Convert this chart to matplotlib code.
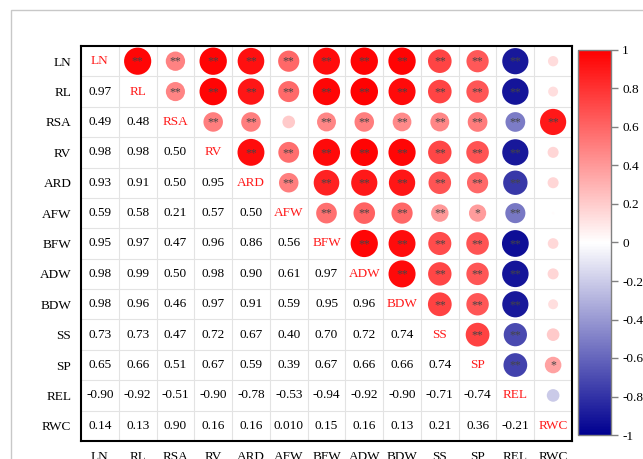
import numpy as np
import matplotlib
matplotlib.use("Agg")
import matplotlib.pyplot as plt
from matplotlib.colors import LinearSegmentedColormap, Normalize
from matplotlib.patches import Rectangle
import matplotlib.cm as cm

plt.rcParams['font.family'] = ['Liberation Serif', 'DejaVu Serif']

# variable names
labels = ['LN', 'RL', 'RSA', 'RV', 'ARD', 'AFW', 'BFW', 'ADW', 'BDW', 'SS', 'SP', 'REL', 'RWC']

# lower triangle of the correlation matrix, row by row
lower = [
    [],
    [0.97],
    [0.49, 0.48],
    [0.98, 0.98, 0.50],
    [0.93, 0.91, 0.50, 0.95],
    [0.59, 0.58, 0.21, 0.57, 0.50],
    [0.95, 0.97, 0.47, 0.96, 0.86, 0.56],
    [0.98, 0.99, 0.50, 0.98, 0.90, 0.61, 0.97],
    [0.98, 0.96, 0.46, 0.97, 0.91, 0.59, 0.95, 0.96],
    [0.73, 0.73, 0.47, 0.72, 0.67, 0.40, 0.70, 0.72, 0.74],
    [0.65, 0.66, 0.51, 0.67, 0.59, 0.39, 0.67, 0.66, 0.66, 0.74],
    [-0.90, -0.92, -0.51, -0.90, -0.78, -0.53, -0.94, -0.92, -0.90, -0.71, -0.74],
    [0.14, 0.13, 0.90, 0.16, 0.16, 0.010, 0.15, 0.16, 0.13, 0.21, 0.36, -0.21],
]

# significance thresholds on |r| (p<0.01 -> **, p<0.05 -> *)
r_01 = 0.40
r_05 = 0.30

n = len(labels)
corr = np.eye(n)
for i, row in enumerate(lower):
    for j, v in enumerate(row):
        corr[i, j] = v
        corr[j, i] = v

cmap = LinearSegmentedColormap.from_list('cor', ['#000090', '#FFFFFF', '#FF0000'])
norm = Normalize(-1, 1)


def fmt(v):
    if abs(v) < 0.1:
        return f"{v:.3f}"
    return f"{v:.2f}"


fig = plt.figure(figsize=(6.43, 4.59), dpi=100)

# light outer frame
fig.patches.append(Rectangle((11 / 643, -0.5), 1.5, 0.5 + 1 - 10 / 459, fill=False,
                             edgecolor='#c8c8c8', linewidth=1.0, transform=fig.transFigure))

ax = fig.add_axes([81 / 643, 18 / 459, 491 / 643, 395 / 459])
ax.set_xlim(-0.5, n - 0.5)
ax.set_ylim(n - 0.5, -0.5)

# cell grid
for k in range(1, n):
    ax.axhline(k - 0.5, color='#e3e3e3', lw=0.8, zorder=0)
    ax.axvline(k - 0.5, color='#e3e3e3', lw=0.8, zorder=0)

xs, ys, ss, cs = [], [], [], []
for i in range(n):
    for j in range(n):
        v = corr[i, j]
        if i == j:
            ax.text(j, i, labels[i], ha='center', va='center', color='#FF1A1A', fontsize=9.5)
        elif i > j:
            ax.text(j, i, fmt(v), ha='center', va='center', color='black', fontsize=9.5)
        else:
            xs.append(j)
            ys.append(i)
            ss.append(395 * abs(v))
            cs.append(cmap(norm(v)))
            if abs(v) >= r_01:
                star = '**'
            elif abs(v) >= r_05:
                star = '*'
            else:
                star = ''
            if star:
                ax.text(j, i + 0.02, star, ha='center', va='center', color='#454545',
                        fontsize=8.5, zorder=4)

ax.scatter(xs, ys, s=ss, c=cs, linewidths=0, zorder=3)

ax.set_xticks(range(n))
ax.set_yticks(range(n))
ax.set_xticklabels(labels, fontsize=9.5)
ax.set_yticklabels(labels, fontsize=9.5)
ax.tick_params(length=0, pad=7)
for sp in ax.spines.values():
    sp.set_linewidth(1.5)
    sp.set_color('black')

# colorbar
cax = fig.add_axes([578 / 643, 24 / 459, 33 / 643, 385 / 459])
cb = fig.colorbar(cm.ScalarMappable(norm=norm, cmap=cmap), cax=cax)
cb.set_ticks([1, 0.8, 0.6, 0.4, 0.2, 0, -0.2, -0.4, -0.6, -0.8, -1])
cb.set_ticklabels(['1', '0.8', '0.6', '0.4', '0.2', '0', '-0.2', '-0.4', '-0.6', '-0.8', '-1'])
cb.outline.set_edgecolor('#808080')
cb.outline.set_linewidth(1.0)
cax.tick_params(length=5, width=1, color='#808080', labelsize=9.5, pad=3)

fig.savefig('out.png', dpi=100)
